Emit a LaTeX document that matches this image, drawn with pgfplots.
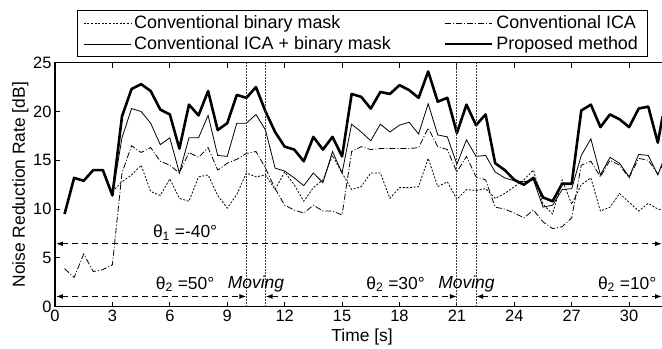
\documentclass[border=0pt]{standalone}
\usepackage{fontspec}
\setmainfont{Liberation Sans}
\usepackage{pgfplots}
\pgfplotsset{compat=1.18}
\usepackage{pgfplotstable}
\usetikzlibrary{arrows.meta}

\pgfplotstableread{
t v
0.5 9.5
1.0 13.2
1.5 12.9
2.0 14.0
2.5 14.0
3.0 11.4
3.5 19.5
4.0 22.3
4.5 22.8
5.0 22.1
5.5 20.2
6.0 19.7
6.5 16.2
7.0 20.7
7.5 19.6
8.0 22.1
8.5 18.1
9.0 18.8
9.5 21.7
10.0 21.4
10.5 22.5
11.0 20.0
11.5 17.9
12.0 16.4
12.5 16.1
13.0 14.9
13.5 17.4
14.0 16.1
14.5 17.4
15.0 15.4
15.5 21.8
16.0 21.5
16.5 20.3
17.0 22.0
17.5 21.8
18.0 22.7
18.5 22.2
19.0 21.4
19.5 24.1
20.0 21.0
20.5 21.4
21.0 17.8
21.5 20.7
22.0 18.6
22.5 19.7
23.0 14.7
23.5 14.0
24.0 13.0
24.5 12.5
25.0 13.2
25.5 11.2
26.0 10.8
26.5 12.6
27.0 12.6
27.5 20.1
28.0 20.7
28.5 18.4
29.0 19.7
29.5 19.2
30.0 18.4
30.5 20.3
31.0 20.5
31.5 16.8
31.75 19.5
}\proposed

\pgfplotstableread{
t v
3.0 11.4
3.5 17.3
4.0 20.3
4.5 20.0
5.0 18.8
5.5 16.6
6.0 17.3
6.5 13.7
7.0 17.3
7.5 17.3
8.0 19.6
8.5 15.5
9.0 15.4
9.5 18.8
10.0 18.8
10.5 19.7
11.0 18.1
11.5 14.2
12.0 13.9
12.5 13.2
13.0 12.4
13.5 13.7
14.0 12.7
14.5 15.9
15.0 13.7
15.5 18.7
16.0 17.9
16.5 17.0
17.0 18.7
17.5 17.9
18.0 18.6
18.5 18.9
19.0 17.7
19.5 20.8
20.0 17.6
20.5 17.4
21.0 14.6
21.5 17.1
22.0 15.4
22.5 15.5
23.0 13.8
23.5 13.2
24.0 12.9
24.5 12.8
25.0 13.0
25.5 10.2
26.0 10.4
26.5 12.0
27.0 12.1
27.5 15.5
28.0 17.2
28.5 13.5
29.0 15.3
29.5 14.7
30.0 13.3
30.5 15.6
31.0 15.5
31.5 13.5
31.75 14.8
}\icabm

\pgfplotstableread{
t v
0.5 3.9
1.0 3.0
1.5 5.4
2.0 3.6
2.5 3.8
3.0 4.3
3.5 13.7
4.0 16.5
4.5 15.8
5.0 16.3
5.5 14.9
6.0 14.5
6.5 13.7
7.0 15.8
7.5 15.3
8.0 16.3
8.5 14.0
9.0 14.7
9.5 15.1
10.0 15.7
10.5 15.9
11.0 14.2
11.5 12.1
12.0 10.4
12.5 9.9
13.0 9.6
13.5 10.4
14.0 9.8
14.5 9.8
15.0 9.4
15.5 15.9
16.0 16.4
16.5 16.1
17.0 16.2
17.5 16.2
18.0 16.2
18.5 16.2
19.0 16.3
19.5 18.3
20.0 16.4
20.5 16.1
21.0 13.8
21.5 15.4
22.0 13.3
22.5 13.0
23.0 10.2
23.5 10.0
24.0 9.6
24.5 9.1
25.0 9.9
25.5 8.7
26.0 8.0
26.5 8.2
27.0 9.1
27.5 14.5
28.0 14.9
28.5 13.3
29.0 15.0
29.5 14.5
30.0 13.2
30.5 15.2
31.0 15.0
31.5 13.6
31.75 14.5
}\ica

\pgfplotstableread{
t v
3.0 11.8
3.5 12.8
4.0 13.5
4.5 14.5
5.0 11.8
5.5 11.4
6.0 13.1
6.5 11.1
7.0 10.8
7.5 13.3
8.0 13.5
8.5 11.4
9.0 10.1
9.5 11.5
10.0 13.7
10.5 13.3
11.0 13.5
11.5 12.0
12.0 13.8
12.5 12.5
13.0 10.8
13.5 12.2
14.0 13.0
14.5 15.5
15.0 13.7
15.5 12.0
16.0 12.3
16.5 13.7
17.0 13.7
17.5 11.1
18.0 12.2
18.5 12.2
19.0 12.3
19.5 15.2
20.0 12.3
20.5 12.8
21.0 11.0
21.5 12.0
22.0 11.9
22.5 12.1
23.0 11.1
23.5 11.6
24.0 12.3
24.5 13.0
25.0 14.0
25.5 10.5
26.0 9.5
26.5 13.0
27.0 10.5
27.5 12.5
28.0 13.2
28.5 9.8
29.0 10.2
29.5 11.6
30.0 10.7
30.5 9.8
31.0 10.6
31.5 10.0
31.75 9.9
}\bm

\begin{document}
\begin{tikzpicture}
\useasboundingbox (0,0) rectangle (662bp,349bp);
\clip (0,0) rectangle (662bp,349bp);
\begin{axis}[
  at={(55bp,42.3bp)}, anchor=south west,
  scale only axis, width=608bp, height=244bp,
  xmin=0, xmax=31.77, ymin=0, ymax=25,
  xtick={0,3,...,30}, ytick={0,5,...,25},
  ytick pos=left,
  tick align=inside,
  major tick length=5bp,
  axis line style={line width=1.4bp},
  every tick/.style={line width=0.9bp, black},
  /pgf/number format/assume math mode=true,
  tick label style={font=\fontsize{16.5}{18}\selectfont},
  label style={font=\fontsize{17.5}{20}\selectfont},
  xlabel={Time [s]},
  ylabel={Noise Reduction Rate [dB]},
  xlabel style={at={(axis description cs:0.505,-0.123)}, anchor=center},
  ylabel style={at={(axis description cs:-0.057,0.5)}, anchor=center},
  clip=true,
  legend columns=2,
  legend image code/.code={\draw[#1] (0bp,0bp) -- (47bp,0bp);},
  legend style={
    at={(axis description cs:0.036,1.216)}, anchor=north west,
    draw=black, line width=0.9bp, fill=white,
    inner xsep=6bp, inner ysep=2bp,
    nodes={inner sep=3bp, text depth=0.2em},
    font=\fontsize{18}{20}\selectfont,
    /tikz/every even column/.append style={column sep=50bp},
    cells={anchor=west},
  },
]
\addplot[black, line width=0.8bp, dash pattern=on 2bp off 1.6bp] table[x=t,y=v] {\bm};
\addlegendentry{Conventional binary mask}
\addplot[black, line width=0.8bp, dash pattern=on 6bp off 2bp on 1bp off 2bp] table[x=t,y=v] {\ica};
\addlegendentry{Conventional ICA}
\addplot[black, line width=0.8bp] table[x=t,y=v] {\icabm};
\addlegendentry{Conventional ICA + binary mask}
\addplot[black, line width=2.6bp, line join=round] table[x=t,y=v] {\proposed};
\addlegendentry{Proposed method}

% annotation lines
\foreach \xx in {10,11,21,22}{
  \edef\tmp{\noexpand\draw[black!75, line width=0.8bp, dash pattern=on 2bp off 1bp] (axis cs:\xx,0) -- (axis cs:\xx,25);}\tmp
}
\draw[black, line width=1.2bp, dash pattern=on 6bp off 4bp, {Latex[length=7bp,width=5bp]}-{Latex[length=7bp,width=5bp]}] (axis cs:0.05,6.45) -- (axis cs:31.72,6.45);
\draw[black, line width=1.2bp, dash pattern=on 6bp off 4bp, {Latex[length=7bp,width=5bp]}-{Latex[length=7bp,width=5bp]}] (axis cs:0.05,1.05) -- (axis cs:10,1.05);
\draw[black, line width=1.2bp, dash pattern=on 6bp off 4bp, {Latex[length=7bp,width=5bp]}-{Latex[length=7bp,width=5bp]}] (axis cs:11,1.05) -- (axis cs:21,1.05);
\draw[black, line width=1.2bp, dash pattern=on 6bp off 4bp, {Latex[length=7bp,width=5bp]}-{Latex[length=7bp,width=5bp]}] (axis cs:22,1.05) -- (axis cs:31.72,1.05);

\node[font=\fontsize{17.5}{20}\selectfont] at (axis cs:6.8,7.6) {θ\textsubscript{1} =-40°};
\node[font=\fontsize{17.5}{20}\selectfont] at (axis cs:6.8,2.3) {θ\textsubscript{2} =50°};
\node[font=\fontsize{17.5}{20}\selectfont\itshape] at (axis cs:10.5,2.3) {Moving};
\node[font=\fontsize{17.5}{20}\selectfont] at (axis cs:17.8,2.3) {θ\textsubscript{2} =30°};
\node[font=\fontsize{17.5}{20}\selectfont\itshape] at (axis cs:21.5,2.3) {Moving};
\node[font=\fontsize{17.5}{20}\selectfont] at (axis cs:29.9,2.3) {θ\textsubscript{2} =10°};
\end{axis}
\end{tikzpicture}
\end{document}
